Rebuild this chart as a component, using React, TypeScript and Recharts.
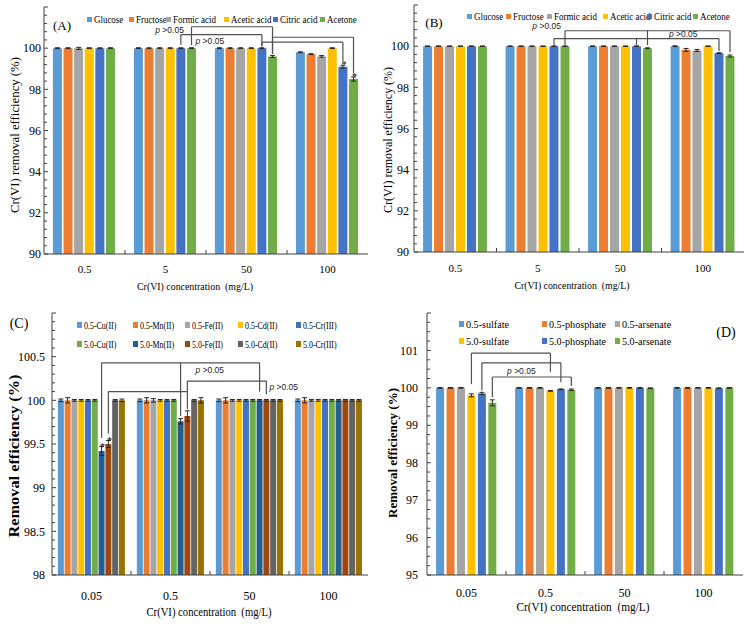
import React from "react";
import { BarChart, Bar, XAxis, YAxis, ErrorBar, ReferenceLine, ReferenceDot, Legend } from "recharts";

if (typeof document !== "undefined") document.body.style.margin = "0";

const SERIF = "'Liberation Serif', 'Times New Roman', serif";
const SANS = "'Liberation Sans', Arial, sans-serif";
const AXIS = "#404040";
const BRACKET = "#505050";

// categories
const concAB = ["0.5", "5", "50", "100"];
const concCD = ["0.05", "0.5", "50", "100"];

// (A) and (B): organic matter
const organicNames = ["Glucose", "Fructose", "Formic acid", "Acetic acid", "Citric acid", "Acetone"];
const excelColors = ["#5B9BD5", "#ED7D31", "#A5A5A5", "#FFC000", "#4472C4", "#70AD47"];

// rows = series, columns = concentration
const valuesA = [
  [100, 100, 100, 99.8],
  [100, 100, 100, 99.71],
  [99.99, 100, 100, 99.6],
  [100, 100, 100, 100],
  [100, 100, 100, 99.1],
  [100, 100, 99.6, 98.5],
];
const errorsA = [
  [0.02, 0.02, 0.02, 0.02],
  [0.02, 0.02, 0.02, 0.02],
  [0.05, 0.02, 0.02, 0.04],
  [0.02, 0.02, 0.02, 0.02],
  [0.02, 0.02, 0.02, 0.07],
  [0.02, 0.02, 0.05, 0.1],
];

const valuesB = [
  [100, 100, 100, 100],
  [100, 100, 100, 99.82],
  [100, 100, 100, 99.79],
  [100, 100, 100, 100],
  [100, 100, 100, 99.66],
  [100, 100, 99.9, 99.52],
];
const errorsB = [
  [0.01, 0.01, 0.01, 0.02],
  [0.01, 0.01, 0.01, 0.07],
  [0.01, 0.01, 0.01, 0.05],
  [0.01, 0.01, 0.01, 0.01],
  [0.01, 0.01, 0.01, 0.02],
  [0.01, 0.01, 0.02, 0.05],
];

// (C): metal ions
const metalNames = [
  "0.5-Cu(II)", "0.5-Mn(II)", "0.5-Fe(II)", "0.5-Cd(II)", "0.5-Cr(III)",
  "5.0-Cu(II)", "5.0-Mn(II)", "5.0-Fe(II)", "5.0-Cd(II)", "5.0-Cr(III)",
];
const metalColors = [
  "#5B9BD5", "#ED7D31", "#A5A5A5", "#FFC000", "#4472C4",
  "#70AD47", "#255E91", "#9E480E", "#636363", "#997300",
];
const valuesC = [
  [100, 100, 100, 100],
  [100, 100, 100, 100],
  [100, 100, 100, 100],
  [100, 100, 100, 100],
  [100, 100, 100, 100],
  [100, 100, 100, 100],
  [99.42, 99.76, 100, 100],
  [99.5, 99.82, 100, 100],
  [100, 100, 100, 100],
  [100, 100, 100, 100],
];
const errorsC = [
  [0.015, 0.015, 0.015, 0.015],
  [0.03, 0.03, 0.03, 0.03],
  [0.01, 0.02, 0.01, 0.01],
  [0.01, 0.01, 0.01, 0.01],
  [0.01, 0.01, 0.01, 0.01],
  [0.01, 0.01, 0.01, 0.01],
  [0.05, 0.03, 0.01, 0.01],
  [0.04, 0.06, 0.01, 0.01],
  [0.01, 0.01, 0.01, 0.01],
  [0.015, 0.03, 0.01, 0.01],
];

// (D): anions
const anionNames = ["0.5-sulfate", "0.5-phosphate", "0.5-arsenate", "5.0-sulfate", "5.0-phosphate", "5.0-arsenate"];
const valuesD = [
  [100, 100, 100, 100],
  [100, 100, 100, 100],
  [100, 100, 100, 100],
  [99.8, 99.92, 100, 100],
  [99.85, 99.96, 100, 99.99],
  [99.6, 99.95, 99.99, 100],
];
const errorsD = [
  [0.01, 0.01, 0.01, 0.01],
  [0.01, 0.01, 0.01, 0.01],
  [0.01, 0.01, 0.01, 0.01],
  [0.04, 0.01, 0.01, 0.01],
  [0.03, 0.01, 0.01, 0.01],
  [0.08, 0.02, 0.01, 0.01],
];

// significance brackets: legs are [group, series, end value]
type Leg = [number, number, number];
type Bracket = { level: number; legs: Leg[] };
type PLabel = { a: [number, number]; b?: [number, number]; y: number; anchor?: "start" | "middle" | "end"; dx?: number };

const bracketsA: Bracket[] = [
  { level: 101.04, legs: [[1, 5, 100.15], [2, 5, 99.72]] },
  { level: 100.66, legs: [[1, 4, 100.15], [2, 4, 100.12]] },
  { level: 100.53, legs: [[2, 5, 99.72], [3, 5, 98.78]] },
  { level: 100.29, legs: [[2, 4, 100.08], [3, 4, 99.35]] },
];
const labelsA: PLabel[] = [
  { a: [1, 4], y: 100.88, anchor: "end", dx: 3 },
  { a: [1, 5], y: 100.34, anchor: "start", dx: 4 },
];
const starsA: [number, number][] = [[3, 4], [3, 5]];

const bracketsB: Bracket[] = [
  { level: 100.75, legs: [[1, 5, 100.05], [2, 5, 100.05], [3, 5, 99.7]] },
  { level: 100.37, legs: [[1, 4, 100.05], [2, 4, 100.05], [3, 4, 99.76]] },
];
const labelsB: PLabel[] = [
  { a: [1, 5], y: 101.0, anchor: "end", dx: -4 },
  { a: [2, 5], b: [3, 4], y: 100.58, anchor: "middle" },
];

const bracketsC: Bracket[] = [
  { level: 100.43, legs: [[0, 6, 99.57], [1, 6, 99.82], [2, 6, 100.1]] },
  { level: 100.1, legs: [[0, 7, 99.62], [1, 7, 100.1]] },
  { level: 100.22, legs: [[1, 7, 99.9], [2, 7, 100.07]] },
];
const labelsC: PLabel[] = [
  { a: [1, 7], y: 100.35, anchor: "start", dx: 8 },
  { a: [2, 7], y: 100.15, anchor: "start", dx: 3 },
];
const starsC: [number, number][] = [[0, 6], [0, 7]];

const bracketsD: Bracket[] = [
  { level: 100.93, legs: [[0, 3, 100.1], [1, 3, 100.43]] },
  { level: 100.67, legs: [[0, 4, 99.93], [1, 4, 100.15]] },
  { level: 100.29, legs: [[0, 5, 99.75], [1, 5, 100.05]] },
];
const labelsD: PLabel[] = [{ a: [0, 5], b: [1, 3], y: 100.45, anchor: "middle" }];

const xTitle = "Cr(VI) concentration\u00a0\u00a0(mg/L)";

type LegendCfg = { x: number; y: number; colW: number[]; perRow: number; rowH: number; font: number; sx: number; mw: number; mh: number };
type PanelCfg = {
  left: number; top: number; width: number; height: number;
  margin: { top: number; right: number; left: number; bottom: number };
  yWidth: number; xHeight: number;
  cats: string[]; names: string[]; colors: string[]; values: number[][]; errors: number[][];
  domain: [number, number]; major: number; minor: number; catGap: number; barGap: number;
  brackets: Bracket[]; labels: PLabel[]; stars: [number, number][];
  tag: string; tagX: number; tagY: number; tagFont: number;
  yTitle: string; yTitleFont: number; yTitleBold: boolean; yTitleX: number; yTitleY: number; yTitleLen: number;
  xTitleX: number; xTitleY: number; xTitleFont: number; xTitleLen: number;
  xTickMargin: number; xTickFont: number; yTickFont: number; yTickGap: number;
  legend: LegendCfg;
};

const panels: PanelCfg[] = [
  {
    left: 0, top: 0, width: 375, height: 300, margin: { top: 7, right: 7, left: 0, bottom: 0 }, yWidth: 44, xHeight: 46,
    cats: concAB, names: organicNames, colors: excelColors, values: valuesA, errors: errorsA,
    domain: [90, 102], major: 2, minor: 0.4, catGap: 0.11, barGap: 0.02,
    brackets: bracketsA, labels: labelsA, stars: starsA,
    tag: "(A)", tagX: 62, tagY: 25, tagFont: 13,
    yTitle: "Cr(VI) removal efficiency (%)", yTitleFont: 12, yTitleBold: false, yTitleX: 15, yTitleY: 135, yTitleLen: 156,
    xTitleX: 195, xTitleY: 290, xTitleFont: 11, xTitleLen: 116,
    xTickMargin: 11, xTickFont: 11, yTickFont: 12, yTickGap: 3,
    legend: { x: 87, y: 13, colW: [42, 37, 58, 49, 47, 40], perRow: 6, rowH: 12, font: 10.5, sx: 0.85, mw: 5, mh: 5 },
  },
  {
    left: 375, top: 0, width: 375, height: 300, margin: { top: 5, right: 6, left: 0, bottom: 0 }, yWidth: 39, xHeight: 48,
    cats: concAB, names: organicNames, colors: excelColors, values: valuesB, errors: errorsB,
    domain: [90, 102], major: 2, minor: 0.4, catGap: 0.11, barGap: 0.024,
    brackets: bracketsB, labels: labelsB, stars: [],
    tag: "(B)", tagX: 59, tagY: 22, tagFont: 13,
    yTitle: "Cr(VI) removal efficiency (%)", yTitleFont: 12, yTitleBold: false, yTitleX: 13, yTitleY: 140, yTitleLen: 146,
    xTitleX: 197, xTitleY: 289, xTitleFont: 11, xTitleLen: 115,
    xTickMargin: 12, xTickFont: 11, yTickFont: 12, yTickGap: 5,
    legend: { x: 92, y: 10, colW: [39, 41, 56, 44, 46, 40], perRow: 6, rowH: 12, font: 10.5, sx: 0.85, mw: 5, mh: 5 },
  },
  {
    left: 0, top: 300, width: 375, height: 328, margin: { top: 13, right: 7, left: 0, bottom: 0 }, yWidth: 52, xHeight: 53,
    cats: concCD, names: metalNames, colors: metalColors, values: valuesC, errors: errorsC,
    domain: [98, 101], major: 0.5, minor: 0.1, catGap: 0.074, barGap: 0.01,
    brackets: bracketsC, labels: labelsC, stars: starsC,
    tag: "(C)", tagX: 19, tagY: 24, tagFont: 14,
    yTitle: "Removal efficiency (%)", yTitleFont: 14, yTitleBold: true, yTitleX: 14, yTitleY: 156, yTitleLen: 163,
    xTitleX: 209, xTitleY: 316, xTitleFont: 13, xTitleLen: 125,
    xTickMargin: 16, xTickFont: 12, yTickFont: 12, yTickGap: 7,
    legend: { x: 77, y: 15, colW: [56, 52, 53, 58, 60], perRow: 5, rowH: 19, font: 11, sx: 0.72, mw: 5, mh: 6 },
  },
  {
    left: 375, top: 300, width: 375, height: 328, margin: { top: 13, right: 7, left: 0, bottom: 0 }, yWidth: 52, xHeight: 53,
    cats: concCD, names: anionNames, colors: excelColors, values: valuesD, errors: errorsD,
    domain: [95, 102], major: 1, minor: 0.25, catGap: 0.115, barGap: 0.031,
    brackets: bracketsD, labels: labelsD, stars: [],
    tag: "(D)", tagX: 351, tagY: 33, tagFont: 14,
    yTitle: "Removal efficiency (%)", yTitleFont: 13, yTitleBold: true, yTitleX: 17, yTitleY: 153, yTitleLen: 130,
    xTitleX: 208, xTitleY: 311, xTitleFont: 13, xTitleLen: 133,
    xTickMargin: 13, xTickFont: 12, yTickFont: 12, yTickGap: 9,
    legend: { x: 84, y: 15, colW: [83, 73, 80], perRow: 3, rowH: 17, font: 11, sx: 0.92, mw: 5, mh: 6 },
  },
];

// centre of bar s in group g, in units of the hidden numeric axis (one band = 1),
// following the way recharts lays out grouped bars
function barCentres(c: PanelCfg) {
  const plotW = c.width - c.margin.left - c.margin.right - c.yWidth;
  const band = plotW / c.cats.length;
  const n = c.names.length;
  const off = band * c.catGap;
  const gap = band * c.barGap;
  let size = (band - 2 * off - (n - 1) * gap) / n;
  if (size > 1) size = Math.floor(size);
  return (g: number, s: number) => g + (off + (size + gap) * s + size / 2) / band;
}

function YTick(props: any) {
  const { x, y, payload, c } = props;
  const v = payload.value as number;
  const isMajor = Math.abs(v / c.major - Math.round(v / c.major)) < 1e-6;
  const showLabel = isMajor && Math.abs(v - c.domain[1]) > 1e-6;
  return (
    <g>
      <line x1={x} x2={x + (isMajor ? 4 : 3)} y1={y} y2={y} stroke={AXIS} strokeWidth={1} />
      {showLabel && (
        <text x={x - c.yTickGap} y={y} dy="0.35em" textAnchor="end" fontSize={c.yTickFont} fontFamily={SERIF} fill="#000">
          {v}
        </text>
      )}
    </g>
  );
}

function LegendBox({ c }: { c: PanelCfg }) {
  const lg = c.legend;
  return (
    <div style={{ position: "relative", width: 360, height: lg.rowH * Math.ceil(c.names.length / lg.perRow) }}>
      {c.names.map((name, i) => {
        const col = i % lg.perRow;
        const row = Math.floor(i / lg.perRow);
        const left = lg.colW.slice(0, col).reduce((a, b) => a + b, 0);
        return (
          <div key={name} style={{ position: "absolute", left, top: row * lg.rowH, height: lg.rowH, display: "flex", alignItems: "center", whiteSpace: "nowrap" }}>
            <span style={{ width: lg.mw, height: lg.mh, background: c.colors[i], display: "inline-block", marginRight: 2 }} />
            <span style={{ fontFamily: SERIF, fontSize: lg.font, color: "#000", display: "inline-block", transform: `scaleX(${lg.sx})`, transformOrigin: "left center" }}>
              {name}
            </span>
          </div>
        );
      })}
    </div>
  );
}

function PText({ p, anchor, dx }: { p: any; anchor: string; dx: number }) {
  const vb = p.viewBox || { x: p.x, y: p.y };
  return (
    <text x={vb.x + dx} y={vb.y} dy="0.35em" textAnchor={anchor} fontFamily={SANS} fontSize={8.5} fill="#222">
      <tspan fontStyle="italic">p</tspan>
      {" >0.05"}
    </text>
  );
}

function Panel({ c }: { c: PanelCfg }) {
  const data = c.cats.map((cat, i) => {
    const row: Record<string, string | number> = { cat, xi: i };
    c.values.forEach((vals, s) => {
      row[`v${s}`] = vals[i];
      row[`e${s}`] = c.errors[s][i];
    });
    return row;
  });
  const pos = barCentres(c);
  const [y0, y1] = c.domain;
  const ticks: number[] = [];
  for (let k = 0; y0 + k * c.minor <= y1 + 1e-9; k++) ticks.push(+(y0 + k * c.minor).toFixed(3));
  const plotH = c.height - c.margin.top - c.xHeight;
  const tickLen = ((y1 - y0) * 4) / plotH;
  const nCat = c.cats.length;
  const lg = c.legend;

  return (
    <div style={{ position: "absolute", left: c.left, top: c.top, width: c.width, height: c.height }}>
      <BarChart
        width={c.width}
        height={c.height}
        data={data}
        margin={c.margin}
        barCategoryGap={`${c.catGap * 100}%`}
        barGap={`${c.barGap * 100}%`}
      >
        <XAxis
          dataKey="cat"
          interval={0}
          tickLine={false}
          tickSize={0}
          tickMargin={c.xTickMargin}
          height={c.xHeight}
          axisLine={{ stroke: AXIS }}
          tick={{ fill: "#000", fontSize: c.xTickFont, fontFamily: SERIF }}
          label={{
            content: () => (
              <text x={c.xTitleX} y={c.xTitleY} textAnchor="middle" fontFamily={SERIF} fontSize={c.xTitleFont} fill="#000"
                textLength={c.xTitleLen} lengthAdjust="spacingAndGlyphs">
                {xTitle}
              </text>
            ),
          }}
        />
        <XAxis xAxisId="n" dataKey="xi" type="number" orientation="top" domain={[0, nCat]} height={0} tick={false}
          tickLine={false} axisLine={{ stroke: AXIS }} allowDataOverflow />
        <YAxis
          domain={c.domain}
          ticks={ticks}
          interval={0}
          width={c.yWidth}
          tickLine={false}
          tickSize={0}
          tickMargin={0}
          axisLine={{ stroke: AXIS }}
          allowDataOverflow
          tick={(p: any) => <YTick {...p} c={c} />}
          label={{
            content: () => (
              <text transform={`translate(${c.yTitleX},${c.yTitleY}) rotate(-90)`} textAnchor="middle" dy="0.35em"
                fontFamily={SERIF} fontSize={c.yTitleFont} fontWeight={c.yTitleBold ? "bold" : "normal"} fill="#000"
                textLength={c.yTitleLen} lengthAdjust="spacingAndGlyphs">
                {c.yTitle}
              </text>
            ),
          }}
        />
        <YAxis yAxisId="r" orientation="right" domain={c.domain} width={0} tick={false} tickLine={false}
          axisLine={{ stroke: AXIS }} allowDataOverflow />
        {c.names.map((name, s) => (
          <Bar key={name} dataKey={`v${s}`} name={name} fill={c.colors[s]} isAnimationActive={false}>
            <ErrorBar dataKey={`e${s}`} width={2.5} stroke="#262626" strokeWidth={1} />
          </Bar>
        ))}
        {c.cats.slice(1).map((_, i) => (
          <ReferenceLine key={`bt${i}`} xAxisId="n" segment={[{ x: i + 1, y: y0 }, { x: i + 1, y: y0 + tickLen }]}
            stroke={AXIS} ifOverflow="visible" />
        ))}
        {c.brackets.flatMap((b, bi) => {
          const xs = b.legs.map(([g, s]) => pos(g, s));
          const out = [
            <ReferenceLine key={`bh${bi}`} xAxisId="n" segment={[{ x: Math.min(...xs), y: b.level }, { x: Math.max(...xs), y: b.level }]}
              stroke={BRACKET} strokeWidth={1.2} ifOverflow="visible" />,
          ];
          b.legs.forEach(([g, s, end], li) => {
            out.push(
              <ReferenceLine key={`bv${bi}-${li}`} xAxisId="n" segment={[{ x: pos(g, s), y: b.level }, { x: pos(g, s), y: end }]}
                stroke={BRACKET} strokeWidth={1.2} ifOverflow="visible" />
            );
          });
          return out;
        })}
        {c.labels.map((l, li) => {
          const x = l.b ? (pos(l.a[0], l.a[1]) + pos(l.b[0], l.b[1])) / 2 : pos(l.a[0], l.a[1]);
          return (
            <ReferenceDot key={`pl${li}`} xAxisId="n" x={x} y={l.y} r={0} fill="none" stroke="none" ifOverflow="visible"
              label={{ content: (p: any) => <PText p={p} anchor={l.anchor || "middle"} dx={l.dx || 0} /> }} />
          );
        })}
        {c.stars.map(([g, s], si) => (
          <ReferenceDot key={`st${si}`} xAxisId="n" x={pos(g, s)} y={c.values[s][g] + c.errors[s][g]} r={0} fill="none" stroke="none"
            ifOverflow="visible"
            label={{
              content: (p: any) => {
                const vb = p.viewBox || { x: p.x, y: p.y };
                return (
                  <text x={vb.x + 1} y={vb.y + 3} textAnchor="middle" fontFamily={SERIF} fontSize={10} fill="#000">*</text>
                );
              },
            }} />
        ))}
        <Legend
          layout="horizontal"
          verticalAlign="middle"
          align="center"
          wrapperStyle={{ left: lg.x, top: lg.y, width: 360 }}
          content={() => <LegendBox c={c} />}
        />
      </BarChart>
      <div style={{ position: "absolute", left: c.tagX, top: c.tagY, transform: "translate(-50%,-50%)", fontFamily: SERIF, fontSize: c.tagFont, lineHeight: 1, color: "#000", whiteSpace: "nowrap" }}>
        {c.tag}
      </div>
    </div>
  );
}

export default function App() {
  return (
    <div style={{ position: "relative", width: 750, height: 628, background: "#fff", overflow: "hidden" }}>
      {panels.map((c) => (
        <Panel key={c.tag} c={c} />
      ))}
    </div>
  );
}
